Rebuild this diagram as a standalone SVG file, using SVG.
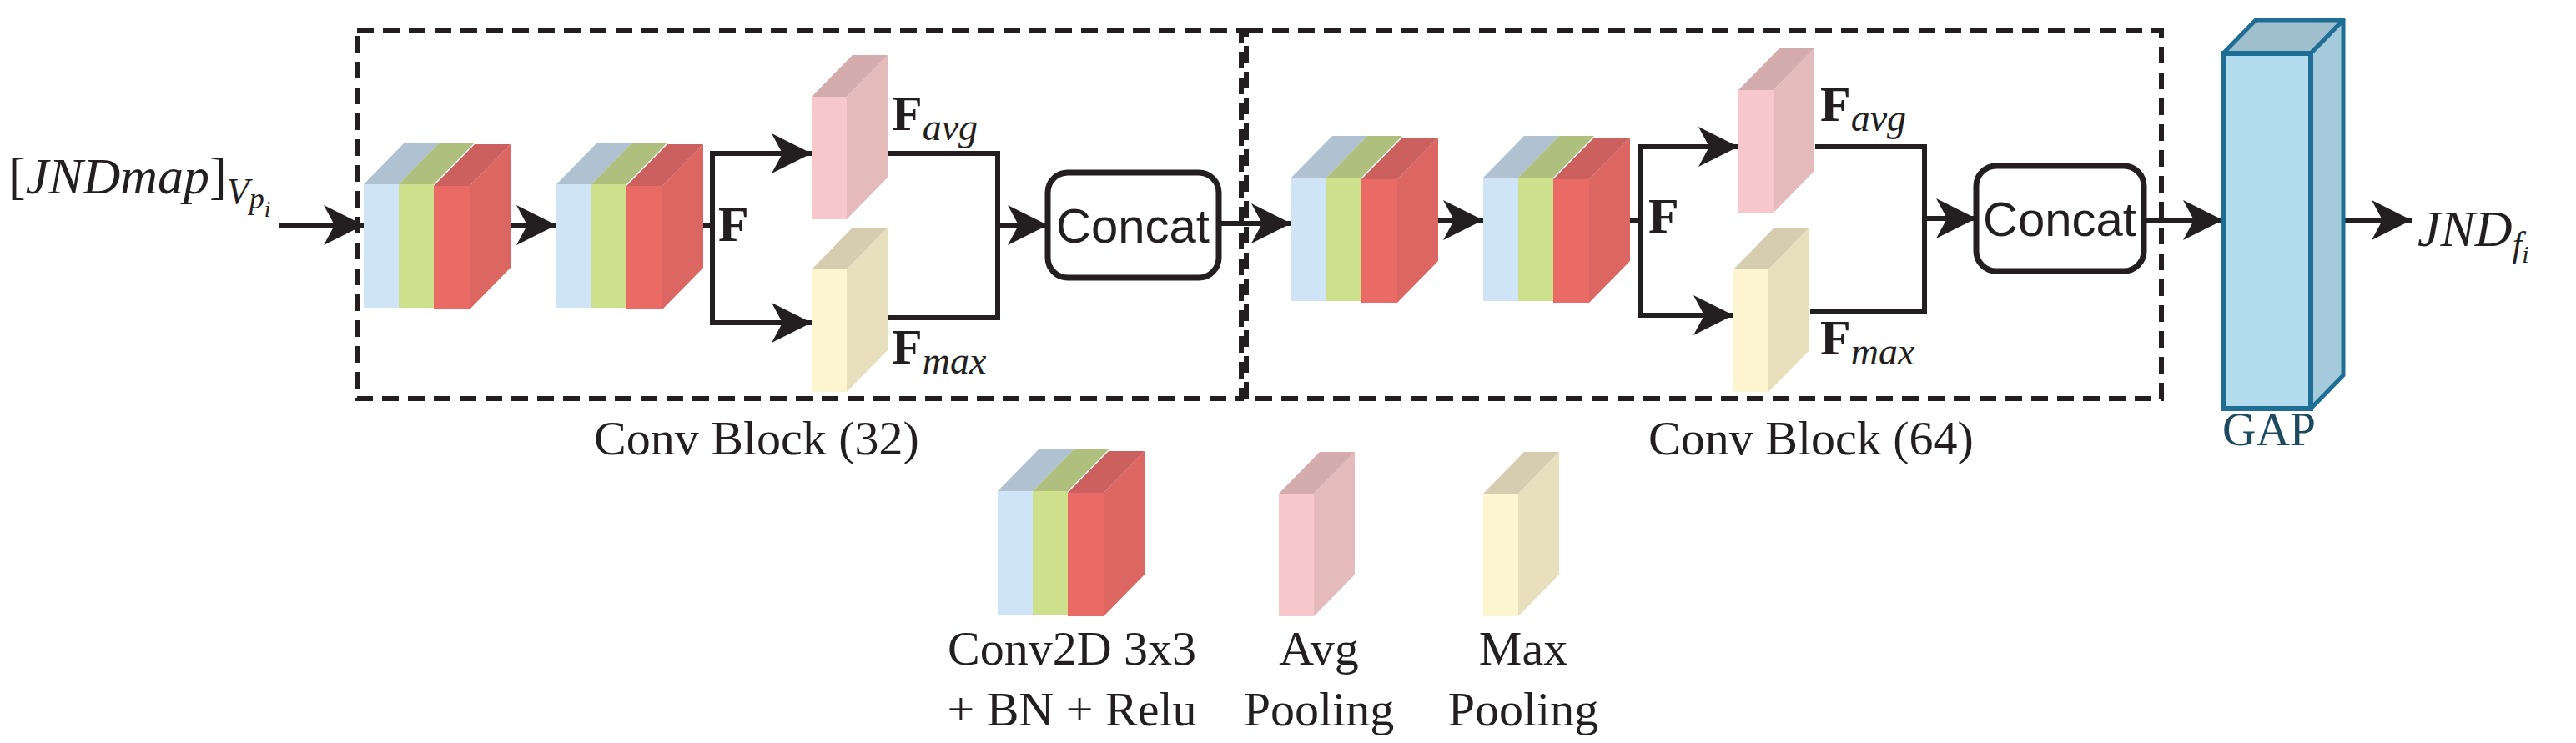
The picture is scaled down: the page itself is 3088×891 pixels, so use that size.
<svg xmlns="http://www.w3.org/2000/svg" width="3088" height="891" viewBox="0 0 3088 891">
<style>
.ln{fill:none;stroke:#231f20;stroke-width:6}
.dash{fill:none;stroke:#231f20;stroke-width:6;stroke-dasharray:20 11}
.cc{fill:#fff;stroke:#231f20;stroke-width:7}
.sans{font-family:"Liberation Sans",Arial,sans-serif;fill:#231f20}
.serif{font-family:"Liberation Serif","Times New Roman",serif;fill:#231f20}
.it{font-style:italic}
.bf{font-weight:bold}
</style>
<defs>
<marker id="ah" markerUnits="userSpaceOnUse" markerWidth="52" markerHeight="52" viewBox="-48 -26 52 52" refX="0" refY="0" orient="auto">
<path d="M0,0 L-48,-24 L-35,0 L-48,24 z" fill="#231f20"/>
</marker>
<g id="conv">
<rect x="0" y="0" width="42" height="148" fill="#cfe4f7"/>
<polygon points="0,0 49,-50 91,-50 42,0" fill="#b0c2d2"/>
<rect x="42" y="0" width="42" height="148" fill="#cfe08c"/>
<polygon points="42,0 91,-50 133,-50 84,0" fill="#afc07e"/>
<rect x="84" y="2" width="43" height="148" fill="#ea6a66"/>
<polygon points="84,2 133,-48 176,-48 127,2" fill="#cc605e"/>
<polygon points="127,2 176,-48 176,100 127,150" fill="#dc6662"/>
</g>
<g id="avgp">
<rect x="0" y="0" width="42" height="147" fill="#f7c8cb"/>
<polygon points="0,0 49,-50 91,-50 42,0" fill="#d4acad"/>
<polygon points="42,0 91,-50 91,97 42,147" fill="#e4babb"/>
</g>
<g id="maxp">
<rect x="0" y="0" width="42" height="147" fill="#fdf4d0"/>
<polygon points="0,0 49,-50 91,-50 42,0" fill="#d6cdb0"/>
<polygon points="42,0 91,-50 91,97 42,147" fill="#e8dfbd"/>
</g>
</defs>

<g id="blocks">
<rect id="block32" class="dash" x="428" y="37" width="1060" height="441"/>
<rect id="block64" class="dash" x="1494" y="37" width="1097" height="441"/>
</g>

<g id="connectors">
<line class="ln" x1="334" y1="270" x2="436" y2="270" marker-end="url(#ah)"/>
<line class="ln" x1="611" y1="270" x2="667" y2="270" marker-end="url(#ah)"/>
<polyline class="ln" points="842,270 854,270"/>
<polyline class="ln" points="973,184 854,184 854,387 973,387"/>
<line x1="900" y1="184" x2="973" y2="184" class="ln" marker-end="url(#ah)"/>
<line x1="900" y1="387" x2="973" y2="387" class="ln" marker-end="url(#ah)"/>
<polyline class="ln" points="1065,184 1196,184 1196,381 1065,381"/>
<line class="ln" x1="1196" y1="270" x2="1256" y2="270" marker-end="url(#ah)"/>
<line class="ln" x1="1461" y1="268" x2="1548" y2="268" marker-end="url(#ah)"/>
<line class="ln" x1="1723" y1="264" x2="1778" y2="264" marker-end="url(#ah)"/>
<polyline class="ln" points="1954,264 1966,264"/>
<polyline class="ln" points="2084,176 1966,176 1966,378 2078,378"/>
<line x1="2010" y1="176" x2="2084" y2="176" class="ln" marker-end="url(#ah)"/>
<line x1="2010" y1="378" x2="2078" y2="378" class="ln" marker-end="url(#ah)"/>
<polyline class="ln" points="2176,176 2307,176 2307,373 2170,373"/>
<line class="ln" x1="2307" y1="262" x2="2369" y2="262" marker-end="url(#ah)"/>
<line class="ln" x1="2570" y1="264" x2="2665" y2="264" marker-end="url(#ah)"/>
<line class="ln" x1="2809" y1="264" x2="2891" y2="264" marker-end="url(#ah)"/>
</g>

<g id="conv1"><use href="#conv" x="436" y="221"/></g>
<g id="conv2"><use href="#conv" x="667" y="221"/></g>
<g id="avg1"><use href="#avgp" x="973" y="116"/></g>
<g id="max1"><use href="#maxp" x="973" y="323"/></g>
<g id="concat1"><rect class="cc" x="1256" y="207" width="205" height="126" rx="24"/>
<text class="sans" x="1358" y="291" font-size="58" text-anchor="middle">Concat</text></g>

<g id="conv3"><use href="#conv" x="1548" y="213"/></g>
<g id="conv4"><use href="#conv" x="1778" y="213"/></g>
<g id="avg2"><use href="#avgp" x="2084" y="108"/></g>
<g id="max2"><use href="#maxp" x="2078" y="323"/></g>
<g id="concat2"><rect class="cc" x="2369" y="199" width="201" height="126" rx="24"/>
<text class="sans" x="2469" y="283" font-size="58" text-anchor="middle">Concat</text></g>

<g id="gap">
<polygon points="2665,64 2704,24 2809,24 2770,64" fill="#9fbfcf" stroke="#1e6e96" stroke-width="5" stroke-linejoin="round"/>
<polygon points="2770,64 2809,24 2809,450 2770,490" fill="#a5cadb" stroke="#1e6e96" stroke-width="5" stroke-linejoin="round"/>
<rect x="2665" y="64" width="105" height="426" fill="#b3dcee" stroke="#1e6e96" stroke-width="6"/>
<text class="serif" x="2720" y="534" font-size="56" text-anchor="middle" style="fill:#1d4a5e">GAP</text>
</g>

<g id="labels">
<text class="serif" x="10" y="232" font-size="62">[<tspan class="it">JNDmap</tspan>]<tspan class="it" font-size="44" dy="12">V</tspan><tspan class="it" font-size="36" dy="6">p</tspan><tspan class="it" font-size="28" dy="10">i</tspan></text>
<text class="serif" x="2898" y="295" font-size="62"><tspan class="it">JND</tspan><tspan class="it" font-size="42" dy="12">f</tspan><tspan class="it" font-size="30" dy="8">i</tspan></text>
<text class="serif bf" x="861" y="289" font-size="60">F</text>
<text class="serif" x="1069" y="156" font-size="60"><tspan class="bf">F</tspan><tspan class="it" font-size="46" dy="12">avg</tspan></text>
<text class="serif" x="1069" y="436" font-size="60"><tspan class="bf">F</tspan><tspan class="it" font-size="46" dy="12">max</tspan></text>
<text class="serif bf" x="1976" y="279" font-size="60">F</text>
<text class="serif" x="2182" y="145" font-size="60"><tspan class="bf">F</tspan><tspan class="it" font-size="46" dy="12">avg</tspan></text>
<text class="serif" x="2182" y="425" font-size="60"><tspan class="bf">F</tspan><tspan class="it" font-size="46" dy="12">max</tspan></text>
<text class="serif" x="907" y="545" font-size="58" text-anchor="middle">Conv Block (32)</text>
<text class="serif" x="2171" y="545" font-size="58" text-anchor="middle">Conv Block (64)</text>
</g>

<g id="legend">
<g id="leg-conv"><use href="#conv" x="1196" y="589"/>
<text class="serif" x="1285" y="797" font-size="58" text-anchor="middle">Conv2D 3x3</text>
<text class="serif" x="1285" y="870" font-size="58" text-anchor="middle">+ BN + Relu</text></g>
<g id="leg-avg"><use href="#avgp" x="1533" y="592"/>
<text class="serif" x="1581" y="797" font-size="58" text-anchor="middle">Avg</text>
<text class="serif" x="1581" y="870" font-size="58" text-anchor="middle">Pooling</text></g>
<g id="leg-max"><use href="#maxp" x="1778" y="592"/>
<text class="serif" x="1826" y="797" font-size="58" text-anchor="middle">Max</text>
<text class="serif" x="1826" y="870" font-size="58" text-anchor="middle">Pooling</text></g>
</g>
</svg>
